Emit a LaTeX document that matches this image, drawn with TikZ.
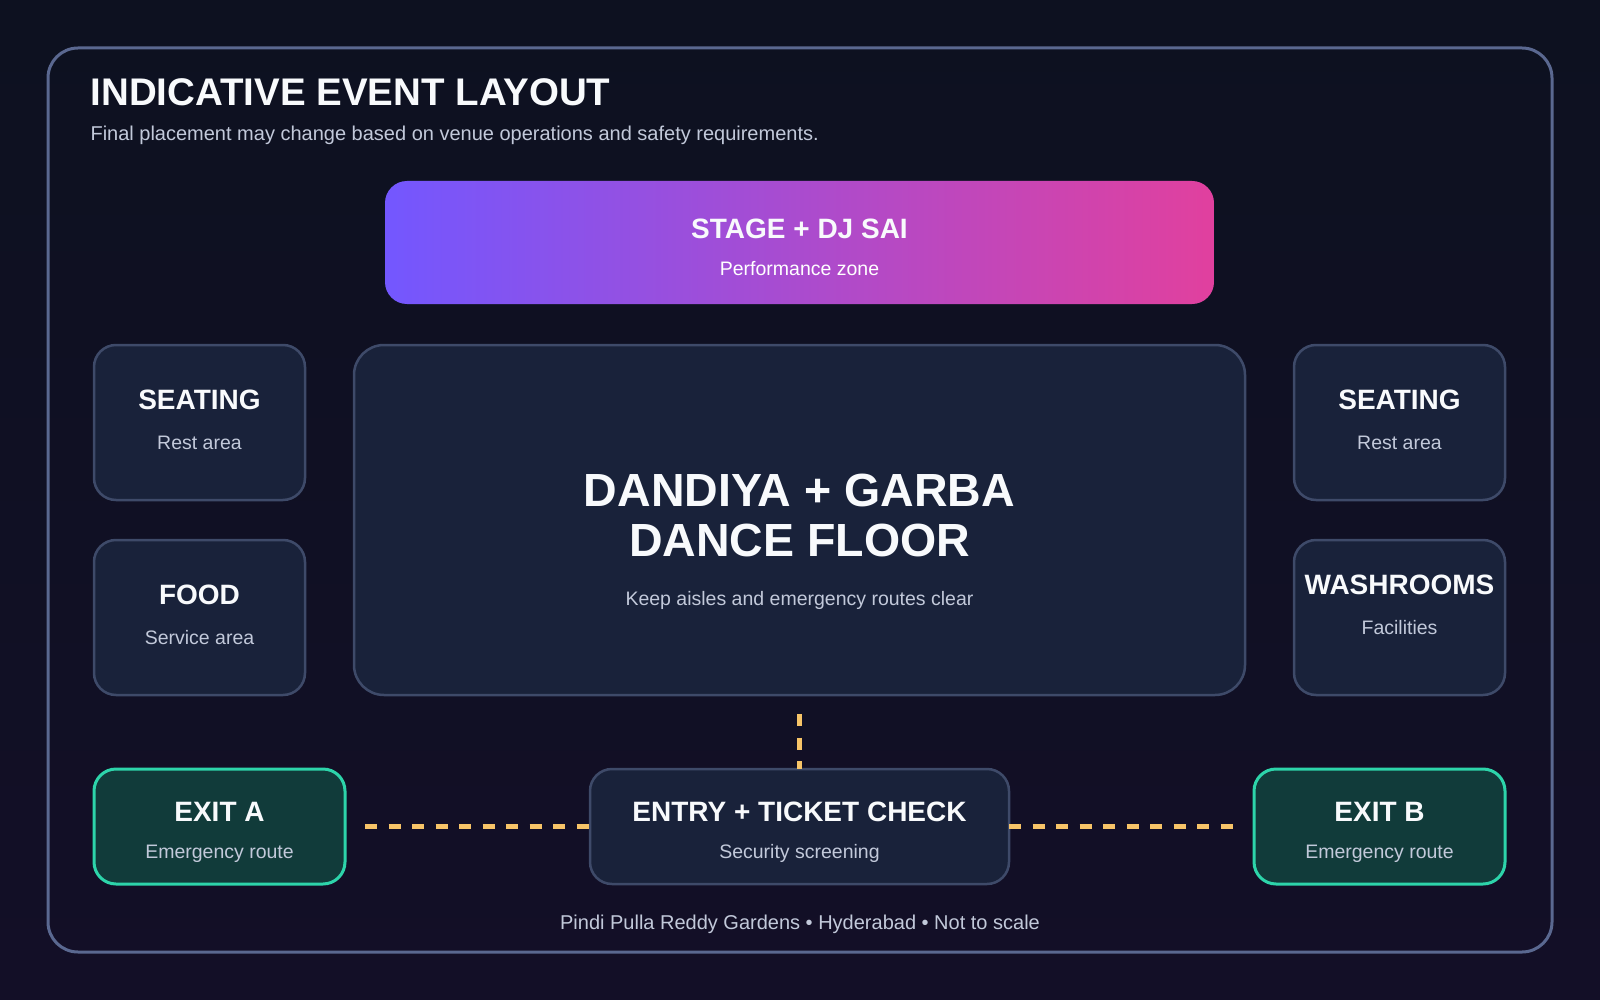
\documentclass[tikz,border=0pt]{standalone}
\usepackage{fontspec}
\setmainfont{Liberation Sans}
\usepackage{xcolor}
\usetikzlibrary{positioning}
\definecolor{bgtop}{HTML}{0D1120}
\definecolor{bgbottom}{HTML}{130F27}
\definecolor{frameline}{HTML}{5A6890}
\definecolor{zonefill}{HTML}{19223A}
\definecolor{zoneline}{HTML}{3E4A69}
\definecolor{exitfill}{HTML}{113B3A}
\definecolor{exitline}{HTML}{2DD4AA}
\definecolor{routeyellow}{HTML}{F7C468}
\definecolor{headwhite}{HTML}{F8FAFC}
\definecolor{subgray}{HTML}{C2C9DA}
\definecolor{stageL}{HTML}{7357FF}
\definecolor{stageR}{HTML}{E1409E}
\newcommand{\zonehead}[1]{{\color{headwhite}\fontsize{28}{30}\selectfont\bfseries #1}}
\tikzset{
  zone/.style={rectangle, draw=zoneline, fill=zonefill, line width=2.5pt, rounded corners=22pt,
    minimum width=211pt, minimum height=155pt, inner sep=0pt, outer sep=0pt, align=center,
    text=subgray, font=\fontsize{19.5}{22}\selectfont},
  exitzone/.style={zone, draw=exitline, fill=exitfill, line width=3pt, minimum width=251pt, minimum height=115pt,
    text height=68pt},
  route/.style={draw=routeyellow, line width=4.5pt, dash pattern=on 12pt off 11.5pt},
}

\begin{document}
\begin{tikzpicture}[x=1pt, y=-1pt]
    \useasboundingbox (0,0) rectangle (1600,1000);
    \shade[top color=bgtop, bottom color=bgbottom] (0,0) rectangle (1600,1000);
    \draw[frameline, line width=3pt, rounded corners=30pt] (48,48) rectangle (1552,952);
    \node[anchor=base west, text=headwhite, font=\fontsize{38.5}{40}\selectfont\bfseries] (title) at (87,106) {INDICATIVE EVENT LAYOUT};
    \node[anchor=base west, text=subgray, font=\fontsize{20}{22}\selectfont] (note) at (87,141) {Final placement may change based on venue operations and safety requirements.};

    % main floor and stage
    \node[zone, minimum width=891pt, minimum height=350pt, rounded corners=30pt] (floor) at (799.5,520) {};
    \node[align=center, text=subgray, font=\fontsize{19.5}{22}\selectfont] (floortext) at ([yshift=-22pt]floor.center)
      {{\color{headwhite}\fontsize{46.5}{50}\selectfont\bfseries DANDIYA + GARBA}\\[16pt]{\color{headwhite}\fontsize{46.5}{50}\selectfont\bfseries DANCE FLOOR}\\[27pt]Keep aisles and emergency routes clear};
    \node[zone, draw=none, left color=stageL, right color=stageR, text=white, minimum width=829pt, minimum height=123pt,
      text height=65.5pt, above=41pt of floor] (stage) {\zonehead{STAGE + DJ SAI}\\[15pt]Performance zone};

    % side areas
    \node[zone, text depth=5pt, left=49pt of floor.north west, anchor=north east] (seatL) {\zonehead{SEATING}\\[18pt]Rest area};
    \node[zone, text depth=5pt, below=40pt of seatL] (food) {\zonehead{FOOD}\\[18pt]Service area};
    \node[zone, text depth=5pt, right=49pt of floor.north east, anchor=north west] (seatR) {\zonehead{SEATING}\\[18pt]Rest area};
    \node[zone, text depth=25pt, below=40pt of seatR] (wash) {\zonehead{WASHROOMS}\\[18pt]Facilities};

    % entry and exits
    \node[zone, minimum width=419pt, minimum height=115pt, text height=68pt, below=74pt of floor] (entry) {\zonehead{ENTRY + TICKET CHECK}\\[15pt]Security screening};
    \node[exitzone, left=245pt of entry] (exitA) {\zonehead{EXIT A}\\[15pt]Emergency route};
    \node[exitzone, right=245pt of entry] (exitB) {\zonehead{EXIT B}\\[15pt]Emergency route};
    \draw[route, shorten <=20pt] (exitA) -- (entry);
    \draw[route, shorten >=20pt] (entry) -- (exitB);
    \draw[route, shorten <=19pt] (floor) -- (entry);

    \node[anchor=base, text=subgray, font=\fontsize{20}{22}\selectfont] (footer) at (800,929) {Pindi Pulla Reddy Gardens • Hyderabad • Not to scale};
  \end{tikzpicture}
\end{document}
